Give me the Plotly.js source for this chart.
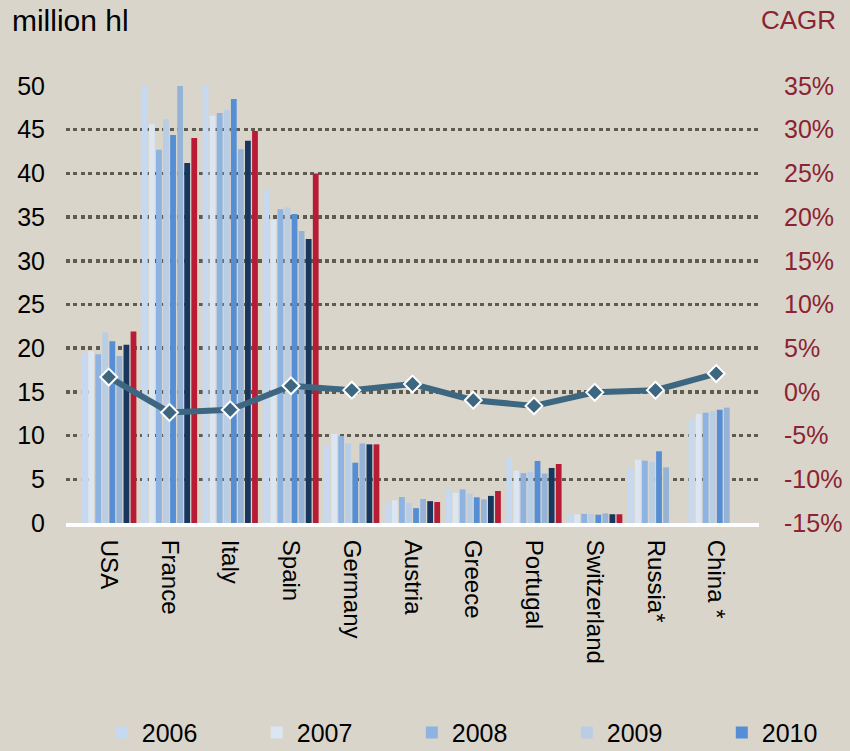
<!DOCTYPE html>
<html>
<head>
<meta charset="utf-8">
<script src="https://cdn.plot.ly/plotly-3.0.1.min.js"></script>
<style>html,body{margin:0;padding:0;background:#d9d5cb;}#chart{width:850px;height:751px;}</style>
</head>
<body>
<div id="chart"></div>
<script>
const countries = ['USA','France','Italy','Spain','Germany','Austria','Greece','Portugal','Switzerland','Russia*','China *'];
const years = ['2006','2007','2008','2009','2010','2011','2012','2013'];
const v2006 = [19.4, 50, 50, 38.1, 8.9, 2.25, 3.9, 7.5, 1.0, 6.25, 11.85];
const v2007 = [19.65, 45.65, 46.6, 34.7, 10.2, 2.6, 3.47, 6.0, 1.0, 7.25, 12.47];
const v2008 = [19.3, 42.7, 46.9, 35.9, 9.95, 2.97, 3.85, 5.7, 1.05, 7.13, 12.62];
const v2009 = [21.8, 46.2, 47.25, 36.1, 9.1, 2.3, 3.35, 5.85, 1.05, 6.98, 12.8];
const v2010 = [20.8, 44.4, 48.5, 35.35, 6.9, 1.7, 2.94, 7.1, 0.95, 8.2, 12.96];
const v2011 = [19.1, 50, 42.75, 33.4, 9.1, 2.75, 2.7, 5.65, 1.1, 6.37, 13.2];
const v2012 = [20.4, 41.2, 43.75, 32.5, 9.0, 2.5, 3.1, 6.3, 1.0, null, null];
const v2013 = [21.9, 44.05, 44.85, 40.0, 9.0, 2.4, 3.66, 6.75, 1.0, null, null];
const cagr = [1.7, -2.35, -2.05, 0.7, 0.2, 0.9, -0.95, -1.6, -0.05, 0.2, 2.1];
const leftTicks = [0,5,10,15,20,25,30,35,40,45,50];
const rightTicks = [-15,-10,-5,0,5,10,15,20,25,30,35];

const series = [v2006, v2007, v2008, v2009, v2010, v2011, v2012, v2013];
const colors = ['#c6d9f0','#dce6f2','#8db3e2','#b9cde5','#558ed5','#95b3d7','#17375e','#b81c35'];
const FONT = 'Liberation Sans, Arial, sans-serif';

const traces = series.map((vals, i) => ({
  type: 'bar', name: years[i], x: countries, y: vals,
  marker: {color: colors[i]},
  showlegend: i < 5,
  hoverinfo: 'y+name'
}));
traces.push({
  type: 'scatter', mode: 'lines+markers', name: 'CAGR', x: countries, y: cagr, yaxis: 'y2',
  line: {color: '#3d6680', width: 6},
  marker: {symbol: 'diamond', size: 13, color: '#3d6680', line: {color: '#ffffff', width: 2}},
  showlegend: false
});

const layout = {
  width: 850, height: 751,
  paper_bgcolor: '#d9d5cb', plot_bgcolor: '#d9d5cb',
  font: {family: FONT, size: 24, color: '#000'},
  margin: {l: 66, r: 91, t: 86, b: 228, autoexpand: false},
  barmode: 'group', bargap: 0.07, bargroupgap: 0.18,
  title: {text: 'million hl', x: 0.014, xanchor: 'left', y: 0.973, yanchor: 'middle', font: {size: 30, color: '#000', family: FONT}},
  xaxis: {
    type: 'category', tickangle: 90, showgrid: false, ticks: '', ticklabelstandoff: 8,
    showline: true, linecolor: '#ffffff', linewidth: 4, zeroline: false,
    tickfont: {size: 24, color: '#000'}, fixedrange: true
  },
  yaxis: {
    range: [0, 50], tickvals: leftTicks, ticktext: leftTicks.map(String),
    showgrid: true, gridcolor: '#5c5c50', gridwidth: 3.5, griddash: '4px,3.4px',
    zeroline: false, showline: false, ticks: '', ticklabelstandoff: 20,
    tickfont: {size: 25, color: '#000'}
  },
  yaxis2: {
    overlaying: 'y', side: 'right', range: [-15, 35], tickvals: rightTicks,
    ticktext: rightTicks.map(v => v + '%'), showgrid: false, zeroline: false,
    ticks: '', ticklabelstandoff: 24, tickfont: {size: 25, color: '#8b2332'}
  },
  legend: {
    orientation: 'h', xref: 'paper', x: 1.170, xanchor: 'right',
    yref: 'paper', y: -0.48, yanchor: 'middle',
    entrywidth: 110, entrywidthmode: 'pixels', font: {size: 25, color: '#000'},
    bgcolor: 'rgba(0,0,0,0)', itemwidth: 30, traceorder: 'normal'
  },
  annotations: [{
    text: 'CAGR', xref: 'paper', yref: 'paper', x: 1.114, xanchor: 'right', y: 1.151, yanchor: 'middle',
    showarrow: false, font: {size: 26, color: '#8b2332', family: FONT}
  }]
};

Plotly.newPlot('chart', traces, layout, {displayModeBar: false, staticPlot: true});
</script>
</body>
</html>
